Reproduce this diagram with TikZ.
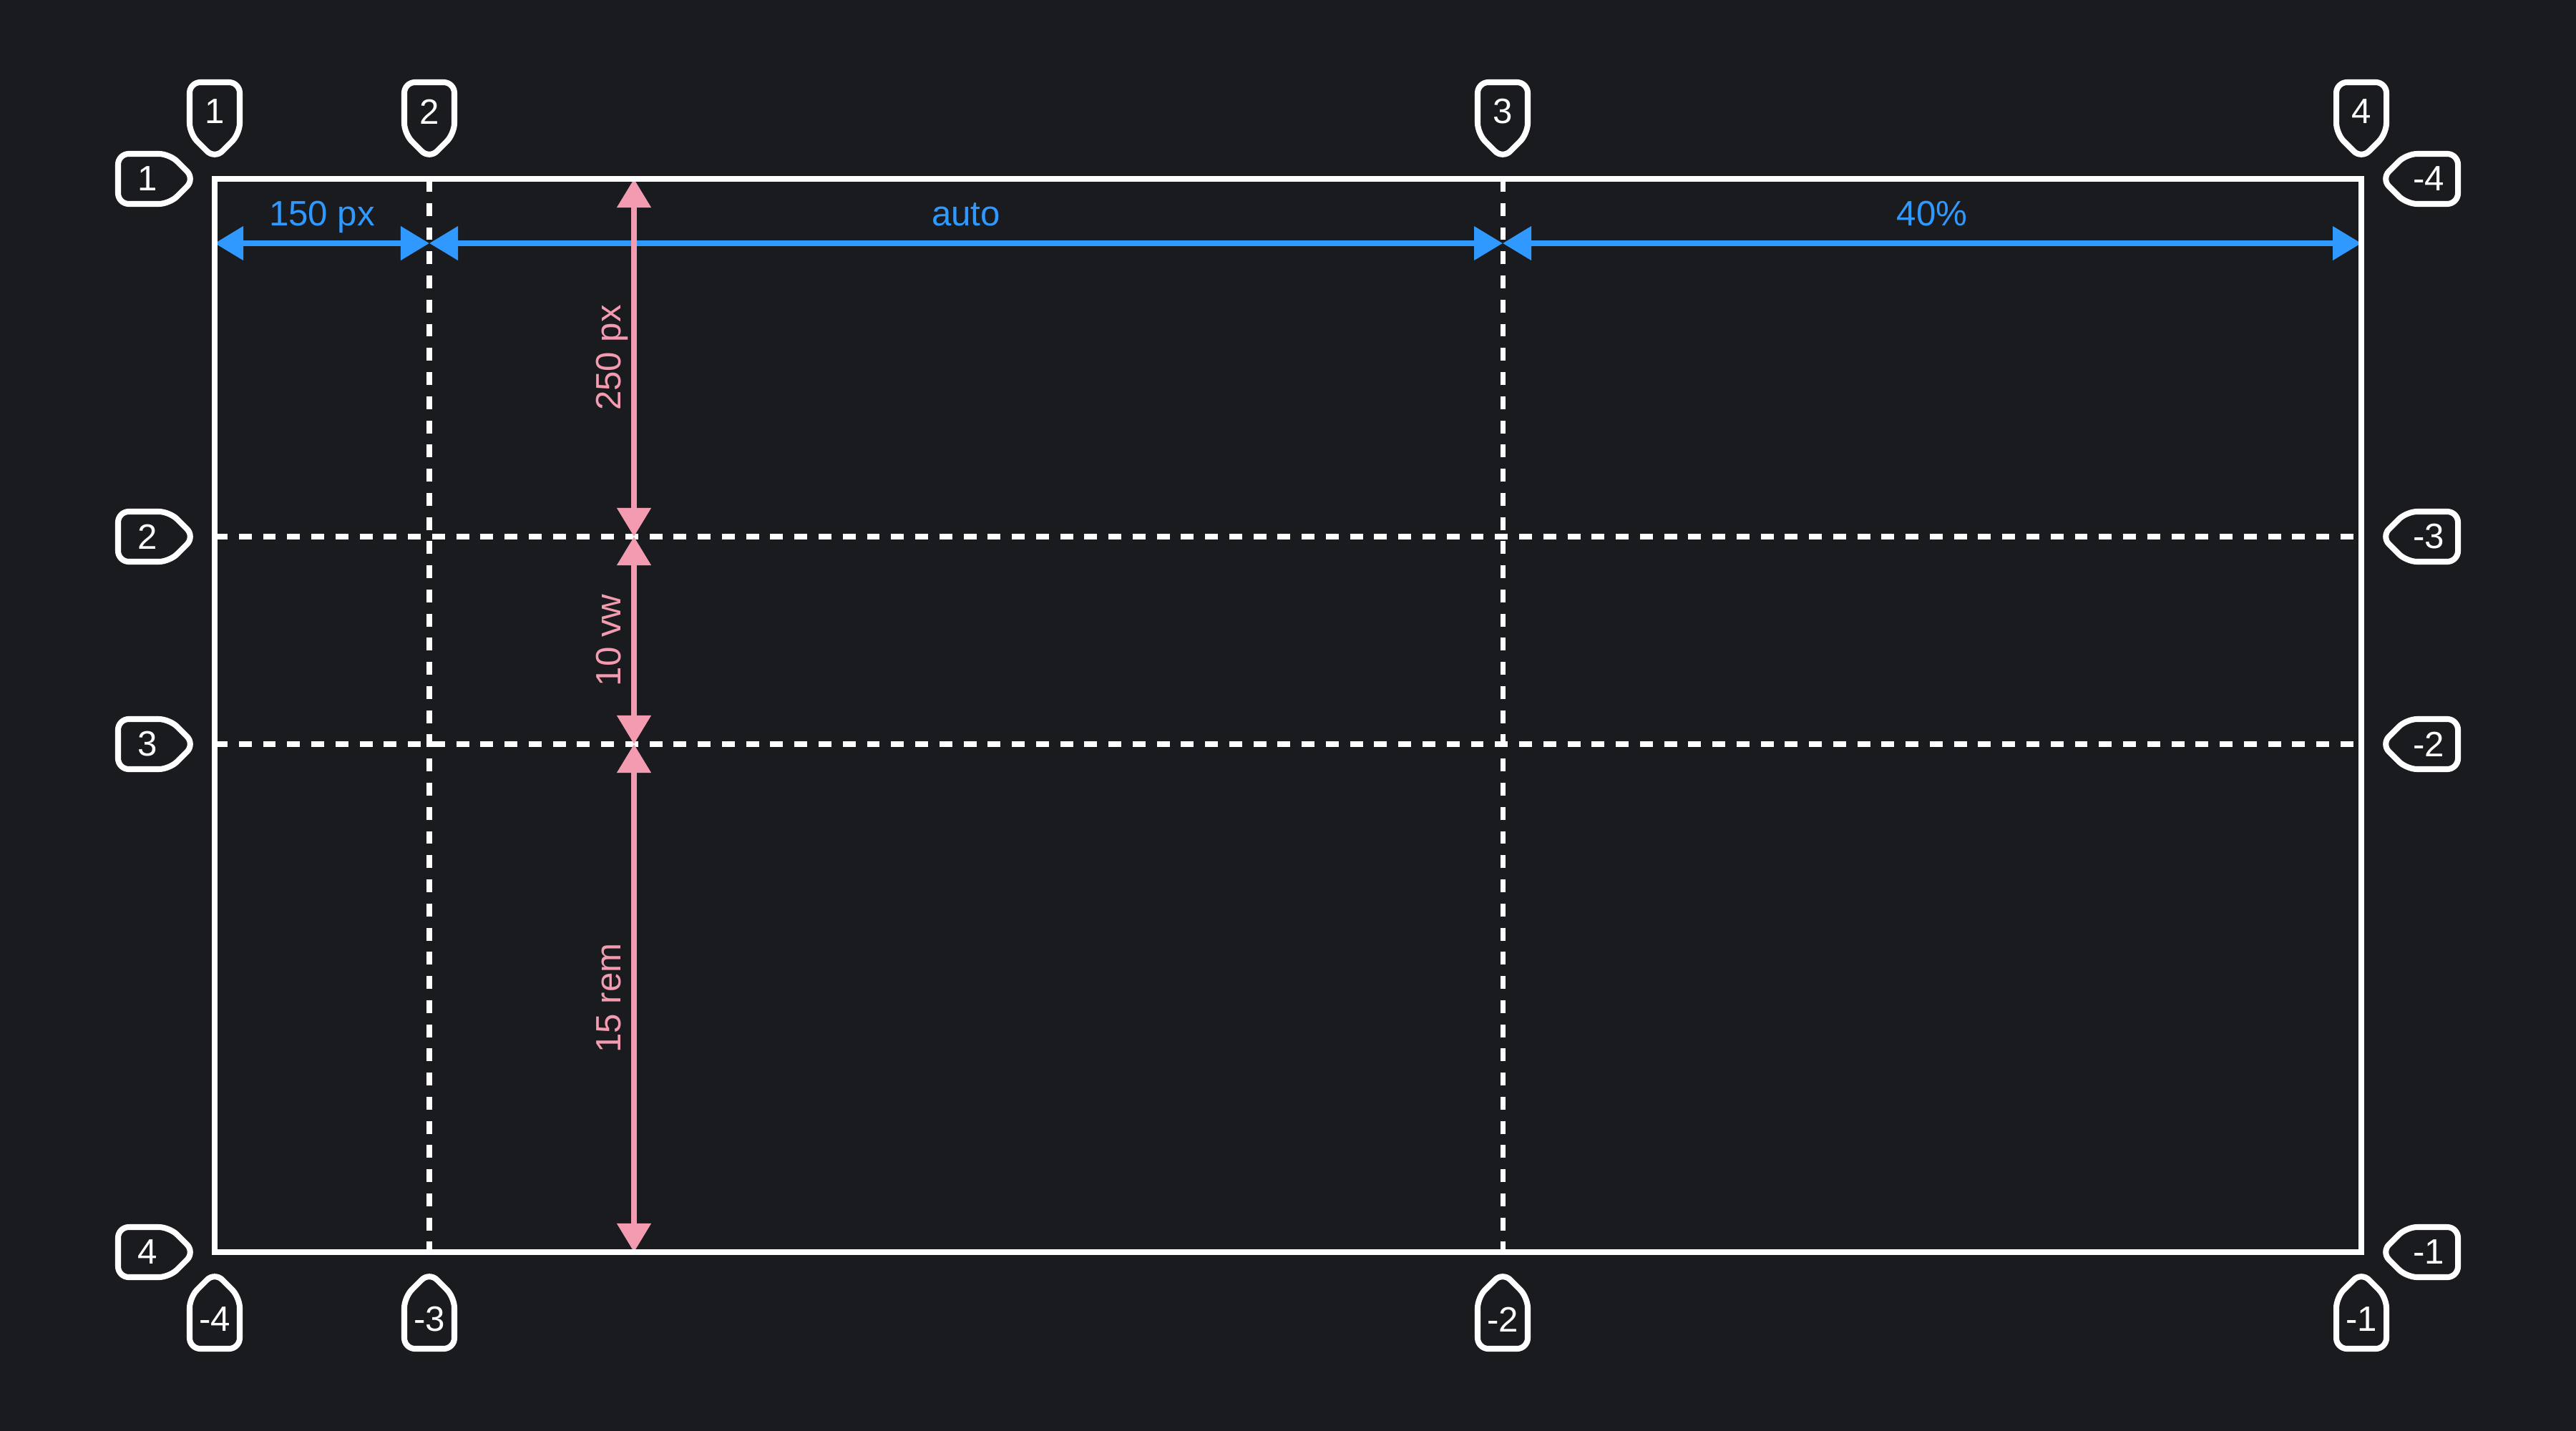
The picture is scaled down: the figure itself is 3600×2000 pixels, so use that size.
\documentclass[tikz,border=0pt]{standalone}
\usepackage{fontspec}
\setmainfont{Liberation Sans}
\usepackage{tikz}
\usetikzlibrary{arrows.meta}
\definecolor{grid_bg}{RGB}{26,27,31}
\definecolor{track_blue}{RGB}{48,153,255}
\definecolor{track_pink}{RGB}{243,155,176}

\tikzset{
    gridtag/.pic={
        \draw[white,line width=2.3pt,rounded corners=0.15cm,line join=round]
            (0,0) -- (-35,-35) -- (-35,-107) -- (35,-107) -- (35,-35) -- cycle;
        \node[text=white,font=\fontsize{14}{16}\selectfont,inner sep=0pt] (-num) at (0,-66) {#1};
    }
}

\begin{document}
\begin{tikzpicture}[x=0.01cm,y=-0.01cm,
                    gridline/.style={white,line width=2pt,dash pattern=on 5.1pt off 4.5pt},
                    bluedim/.style={track_blue,line width=2.1pt,{Triangle[length=0.4cm,width=0.46cm]}-{Triangle[length=0.4cm,width=0.46cm]}},
                    pinkdim/.style={track_pink,line width=2.2pt,{Triangle[length=0.4cm,width=0.46cm]}-{Triangle[length=0.4cm,width=0.46cm]}},
                    dimtext/.style={font=\fontsize{14}{16}\selectfont,anchor=base,inner sep=0pt}]

                    \fill[grid_bg] (0,0) rectangle (3600,2000);

                    \foreach \x/\xtext in {300/1,600/2,2100/3,3300/4}
                    \coordinate (w\xtext) at (\x,340);

                    \foreach \y/\ytext in {250/1,750/2,1040/3,1750/4}
                    \coordinate (h\ytext) at (886,\y);

                    \draw[bluedim] (w1) -- (w2);
                    \draw[bluedim] (w2) -- (w3);
                    \draw[bluedim] (w3) -- (w4);

                    \foreach \x in {600,2100}
                    \draw[gridline] (\x,250) -- (\x,1750);
                    \foreach \y in {750,1040}
                    \draw[gridline] (300,\y) -- (3300,\y);

                    \draw[pinkdim] (h1) -- (h2);
                    \draw[pinkdim] (h2) -- (h3);
                    \draw[pinkdim] (h3) -- (h4);

                    \node[dimtext,text=track_blue] (px150) at (450,315) {150 px};
                    \node[dimtext,text=track_blue] (auto) at (1350,315) {auto};
                    \node[dimtext,text=track_blue] (pct40) at (2700,315) {40\%};

                    \node[dimtext,text=track_pink,rotate=90] (px250) at (867,500) {250 px};
                    \node[dimtext,text=track_pink,rotate=90] (vw10) at (867,895) {10 vw};
                    \node[dimtext,text=track_pink,rotate=90] (rem15) at (867,1395) {15 rem};

                    \draw[white,line width=2.3pt] (300,250) rectangle (3300,1750);

                    \foreach \x/\xtop/\xbot in {300/1/-4,600/2/-3,2100/3/-2,3300/4/-1}{
                    \pic (tagtop\xtop) at (\x,222) {gridtag=\xtop};
                    \pic[rotate=180] (tagbot\xtop) at (\x,1778) {gridtag=\xbot};
                    }

                    \foreach \y/\yleft/\yright in {250/1/-4,750/2/-3,1040/3/-2,1750/4/-1}{
                    \pic[rotate=90] (tagleft\yleft) at (272,\y) {gridtag=\yleft};
                    \pic[rotate=-90] (tagright\yleft) at (3328,\y) {gridtag=\yright};
                    }
                \end{tikzpicture}
\end{document}
